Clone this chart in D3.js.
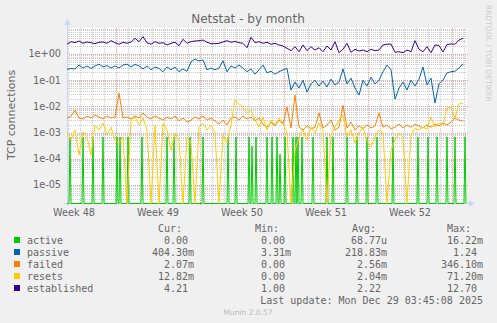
<!DOCTYPE html>
<html><head><meta charset="utf-8">
<script src="https://cdn.jsdelivr.net/npm/d3@7"></script>
<style>body{margin:0;background:#F0F0F0;} svg{display:block;} text{white-space:pre;}</style>
</head><body><svg id="c" width="497" height="323"></svg>
<script>
// ---- data (sampled every 8 hours from graph start) ----
const graphStart = Date.UTC(2025, 10, 26, 22);
const graphEnd = Date.UTC(2025, 11, 30, 6);
const sampleHours = 8;

const established = [2.35,2.95,2.70,3.13,2.56,2.87,2.70,2.47,2.80,2.87,2.56,3.22,2.70,2.35,2.80,2.56,2.87,3.97,2.95,4.57,
2.70,2.35,2.95,2.56,2.70,2.21,2.56,2.80,2.07,3.64,2.56,2.95,3.13,3.22,3.42,2.80,2.47,2.47,2.56,2.87,
3.22,2.80,3.00,2.70,2.56,1.74,4.34,2.70,2.95,2.56,2.80,2.35,2.56,2.21,2.02,1.65,1.34,1.90,1.22,2.21,
1.34,1.90,1.42,1.74,1.22,2.02,1.42,2.95,1.12,1.51,2.56,1.16,1.51,1.30,1.42,1.22,1.51,1.34,1.42,2.21,
2.35,2.41,1.16,1.22,1.12,1.42,1.22,3.22,1.51,1.22,1.90,1.12,2.21,2.10,1.20,2.30,2.41,2.35,3.42,3.97];

const passive = [0.26,0.28,0.27,0.38,0.29,0.35,0.28,0.35,0.41,0.32,0.36,0.29,0.35,0.29,0.38,0.41,0.32,0.40,0.35,0.27,
0.35,0.25,0.32,0.28,0.21,0.32,0.25,0.32,0.21,0.27,0.22,0.50,0.64,0.54,0.59,0.25,0.29,0.25,0.29,0.55,
0.21,0.35,0.29,0.38,0.29,0.21,0.27,0.17,0.25,0.38,0.19,0.22,0.17,0.21,0.25,0.28,0.042,0.085,0.05,0.10,
0.035,0.072,0.10,0.06,0.093,0.055,0.11,0.066,0.085,0.27,0.072,0.12,0.05,0.027,0.10,0.06,0.13,0.072,0.10,0.21,
0.38,0.25,0.019,0.05,0.085,0.042,0.10,0.06,0.11,0.32,0.066,0.12,0.0135,0.072,0.10,0.19,0.21,0.22,0.29,0.42];

const failed = [3.6e-3,4.3e-3,7.2e-3,3.6e-3,3.3e-3,4.3e-3,3.6e-3,4.7e-3,3.9e-3,3.3e-3,4.3e-3,3.6e-3,3.9e-3,3.2e-2,3.6e-3,3.9e-3,3.3e-3,4.3e-3,3.6e-3,5.6e-3,
3.9e-3,3.3e-3,4.3e-3,3.6e-3,3.0e-3,3.9e-3,3.3e-3,4.3e-3,2.8e-3,3.6e-3,2.5e-3,3.0e-3,3.9e-3,3.3e-3,4.3e-3,3.0e-3,3.6e-3,2.8e-3,2.1e-3,3.0e-3,
1.95e-3,3.6e-3,3.9e-3,3.0e-3,4.3e-3,3.3e-3,3.9e-3,2.8e-3,3.6e-3,2.1e-3,1.6e-3,2.5e-3,1.8e-3,3.0e-3,2.1e-3,9.4e-3,1.5e-3,2.7e-2,1.6e-3,1.26e-3,
1.8e-3,1.4e-3,1.6e-3,5.6e-3,1.5e-3,1.95e-3,3.0e-3,1.26e-3,1.6e-3,1.1e-2,1.5e-3,2.5e-3,1.26e-3,1.8e-3,1.4e-3,1.95e-3,1.5e-3,1.8e-3,5.6e-3,1.6e-3,
1.95e-3,1.4e-3,1.6e-3,2.1e-3,1.5e-3,1.95e-3,1.6e-3,2.1e-3,1.8e-3,1.5e-3,1.95e-3,1.6e-3,2.1e-3,1.8e-3,2.3e-3,1.95e-3,2.5e-3,3.6e-3,3.0e-3,2.8e-3];

const resets = [9.7e-4,5.2e-4,1.26e-3,1.4e-4,1.05e-3,6.8e-4,1.4e-4,1.95e-3,1.26e-3,2.3e-3,8.2e-4,1.6e-3,5.2e-4,4.0e-4,6.8e-4,0,3.0e-3,3.9e-3,1.95e-3,3.6e-3,
1.26e-3,0,1.95e-3,0,2.3e-3,1.26e-3,2.1e-4,9.7e-4,5.2e-4,0,6.8e-4,4.0e-4,0,1.6e-3,2.3e-3,1.26e-3,1.95e-3,9.7e-4,0,8.2e-4,
4.0e-4,1.95e-3,1.75e-2,1.24e-2,9.4e-3,5.6e-3,7.2e-3,3.0e-3,1.6e-3,3.9e-3,1.26e-3,3.0e-3,1.95e-3,3.6e-3,2.3e-3,9.7e-4,0,2.1e-4,6.8e-4,1.26e-3,
5.2e-4,1.6e-3,9.7e-4,2.3e-3,1.26e-3,0,8.2e-4,1.6e-3,3.0e-3,4.7e-3,6.8e-4,1.26e-3,4.0e-4,9.7e-4,1.6e-3,5.2e-4,2.8e-4,6.8e-4,1.26e-3,9.7e-4,
0,2.1e-4,5.2e-4,9.7e-4,6.8e-4,0,8.2e-4,1.45e-3,1.26e-3,1.6e-3,1.35e-3,3.9e-3,1.6e-3,2.3e-3,1.95e-3,8.7e-3,9.4e-3,3.6e-3,1.24e-2,1.35e-2];

// active is zero except for short spikes (hours after graph start, value)
const activeSpikeHours = [6,32,52,72,100,106,122,150,200,214,246,272,322,338,364,370,378,400,410,420,426,436,452,458,462,470,492,520,532,560,580,600,620,652,702,722,740,760,776,796];
const activeSpikeValues = [6.8e-4,6.8e-4,6.8e-4,6.8e-4,6.8e-4,6.8e-4,6.8e-4,6.8e-4,6.8e-4,6.8e-4,6.8e-4,6.8e-4,6.8e-4,6.8e-4,6.8e-4,3e-4,6.8e-4,6.8e-4,6.8e-4,6.8e-4,1.5e-4,6.8e-4,6.8e-4,6.8e-4,6.8e-4,6.8e-4,6.8e-4,6.8e-4,6.8e-4,6.8e-4,6.8e-4,6.8e-4,6.8e-4,6.8e-4,6.8e-4,6.8e-4,6.8e-4,6.8e-4,6.8e-4,6.8e-4];
const activeStepHours = 2;

const seriesNames = ["active","passive","failed","resets","established"];
const seriesColors = ["#00CC00","#0066B3","#FF8000","#FFCC00","#330099"];
const legendCur = ["0.00 ","404.30m","2.07m","12.82m","4.21 "];
const legendMin = ["0.00 ","3.31m","0.00 ","0.00 ","1.00 "];
const legendAvg = ["68.77u","218.83m","2.56m","2.04m","2.22 "];
const legendMax = ["16.22m","1.24 ","346.10m","71.20m","12.70 "];
const yTickValues = [1, 1e-1, 1e-2, 1e-3, 1e-4, 1e-5];
const yTickLabels = ["1e+00","1e-01","1e-02","1e-03","1e-04","1e-05"];
const titleText = "Netstat - by month";
const yAxisTitle = "TCP connections";
const lastUpdate = "Last update: Mon Dec 29 03:45:08 2025";

// ---- drawing ----
const svg = d3.select("#c");
const L = 67, R = 467, T = 28, B = 203;
const x = d3.scaleUtc().domain([graphStart, graphEnd]).range([L, R]);
const yMin = Math.pow(10, -5.687), yMax = Math.pow(10, 0.992);
const y = d3.scaleLog().domain([yMin, yMax]).range([B, T]);
const yy = v => (v <= yMin ? B + 0.5 : y(v));

svg.append("rect").attr("width",497).attr("height",323).attr("fill","#F0F0F0");
svg.append("rect").attr("x",L).attr("y",T).attr("width",R-L).attr("height",B-T).attr("fill","#FFFFFF");

const fontS = "DejaVu Sans", fontM = "DejaVu Sans Mono", fc = "#666666";
const gMinor = "#CCCCCC", gMajor = "#EE9D9D";

// minor horizontal (log) grid
const minorY = [];
for (let e = -6; e <= 0; e++) for (let k = 2; k <= 9; k++) { const v = k*Math.pow(10,e); if (v > yMin && v < yMax) minorY.push(v); }
svg.append("g").selectAll("line").data(minorY).join("line")
  .attr("x1",L).attr("x2",R).attr("y1",d=>Math.round(y(d))+0.5).attr("y2",d=>Math.round(y(d))+0.5)
  .attr("stroke",gMinor).attr("stroke-dasharray","1,1");
// minor vertical daily grid
const days = d3.utcDay.range(graphStart, graphEnd).filter(d => d.getUTCDay() !== 1);
svg.append("g").selectAll("line").data(days).join("line")
  .attr("y1",T).attr("y2",B).attr("x1",d=>Math.round(x(d))+0.5).attr("x2",d=>Math.round(x(d))+0.5)
  .attr("stroke",gMinor).attr("stroke-dasharray","1,1");
// major grids
svg.append("g").selectAll("line").data(yTickValues).join("line")
  .attr("x1",L).attr("x2",R+2).attr("y1",d=>Math.round(y(d))+0.5).attr("y2",d=>Math.round(y(d))+0.5)
  .attr("stroke",gMajor).attr("stroke-dasharray","1,1");
const mondays = d3.utcMonday.range(graphStart, graphEnd);
svg.append("g").selectAll("line").data(mondays).join("line")
  .attr("y1",T).attr("y2",B+2).attr("x1",d=>Math.round(x(d))+0.5).attr("x2",d=>Math.round(x(d))+0.5)
  .attr("stroke",gMajor).attr("stroke-dasharray","1,1");

// y tick labels
svg.append("g").selectAll("text").data(yTickValues).join("text")
  .attr("x",61).attr("y",d=>y(d)+3.5).attr("text-anchor","end")
  .attr("font-family",fontS).attr("font-size","9.7px").attr("fill",fc)
  .text((d,i)=>yTickLabels[i]);
// week labels
const weekStarts = d3.utcMonday.range(graphStart - 7*864e5, graphEnd);
const fmtWeek = d3.utcFormat("Week %V");
svg.append("g").selectAll("text").data(weekStarts.map(d => new Date(+d + 3.5*864e5)).filter(d => x(d) >= L && x(d) <= R)).join("text")
  .attr("x",d=>x(d)).attr("y",215.5).attr("text-anchor","middle")
  .attr("font-family",fontS).attr("font-size","9.7px").attr("fill",fc)
  .text(d=>fmtWeek(d));

// axes (drawn below the series, as in the reference)
const axc = "#CFD6F8";
svg.append("line").attr("x1",L+0.5).attr("x2",L+0.5).attr("y1",T-3).attr("y2",B+3).attr("stroke",axc);
svg.append("line").attr("x1",L-3).attr("x2",R+3).attr("y1",B+0.5).attr("y2",B+0.5).attr("stroke",axc);
svg.append("path").attr("d",`M${L-3},${T-3}L${L+4},${T-3}L${L+0.5},${T-9}Z`).attr("fill",axc);
svg.append("path").attr("d",`M${R+2},${B-3}L${R+2},${B+4}L${R+8},${B+0.5}Z`).attr("fill",axc);

// series
const clip = svg.append("defs").append("clipPath").attr("id","pc");
clip.append("rect").attr("x",L).attr("y",T-2).attr("width",R-L+1).attr("height",B-T+3);
const plot = svg.append("g").attr("clip-path","url(#pc)");
const line = d3.line().x(d=>x(d.t)).y(d=>yy(d.v));
const toPts = arr => arr.map((v,i)=>({t: graphStart + i*sampleHours*36e5, v}));
const spikeMap = new Map(activeSpikeHours.map((h,i)=>[h, activeSpikeValues[i]]));
const activePts = [];
for (let h = 0; h <= 798; h += activeStepHours) activePts.push({t: graphStart + h*36e5, v: spikeMap.get(h) || 0});
const seriesData = [activePts, toPts(passive), toPts(failed), toPts(resets), toPts(established)];
seriesData.forEach((pts,i)=>{
  plot.append("path").attr("d", line(pts)).attr("fill","none")
    .attr("stroke", seriesColors[i]).attr("stroke-width",1).attr("stroke-linejoin","miter");
});

// title, labels
svg.append("text").attr("x",248).attr("y",23).attr("text-anchor","middle").attr("font-family",fontS)
  .attr("font-size","12px").attr("fill",fc).text(titleText);
svg.append("text").attr("transform","translate(15,115) rotate(-90)").attr("text-anchor","middle")
  .attr("font-family",fontS).attr("font-size","11px").attr("fill",fc).text(yAxisTitle);
svg.append("text").attr("transform","translate(486,5) rotate(90)").attr("text-anchor","start")
  .attr("font-family",fontS).attr("font-size","7.5px").attr("fill","#CCCCCC").text("RRDTOOL / TOBI OETIKER");

// legend
const lg = svg.append("g").attr("font-family",fontM).attr("font-size","10px").attr("fill",fc);
[["Cur:",158],["Min:",255],["Avg:",352],["Max:",447]].forEach(([t,px])=>lg.append("text").attr("x",px).attr("y",231.5).text(t));
const pad = s => s.padStart(7," ");
seriesNames.forEach((n,i)=>{
  const cy = 240 + i*12;
  lg.append("rect").attr("x",14).attr("y",cy-3).attr("width",6).attr("height",6).attr("fill",seriesColors[i]);
  lg.append("text").attr("x",27).attr("y",cy+3.5).text(n);
  lg.append("text").attr("x",152).attr("y",cy+3.5).text(pad(legendCur[i]));
  lg.append("text").attr("x",249).attr("y",cy+3.5).text(pad(legendMin[i]));
  lg.append("text").attr("x",345).attr("y",cy+3.5).text(pad(legendAvg[i]));
  lg.append("text").attr("x",441).attr("y",cy+3.5).text(pad(legendMax[i]));
});
lg.append("text").attr("x",483).attr("y",303.5).attr("text-anchor","end").text(lastUpdate);
svg.append("text").attr("x",248).attr("y",315).attr("text-anchor","middle").attr("font-family",fontS)
  .attr("font-size","7.5px").attr("fill","#BBBBBB").text("Munin 2.0.57");
</script></body></html>
